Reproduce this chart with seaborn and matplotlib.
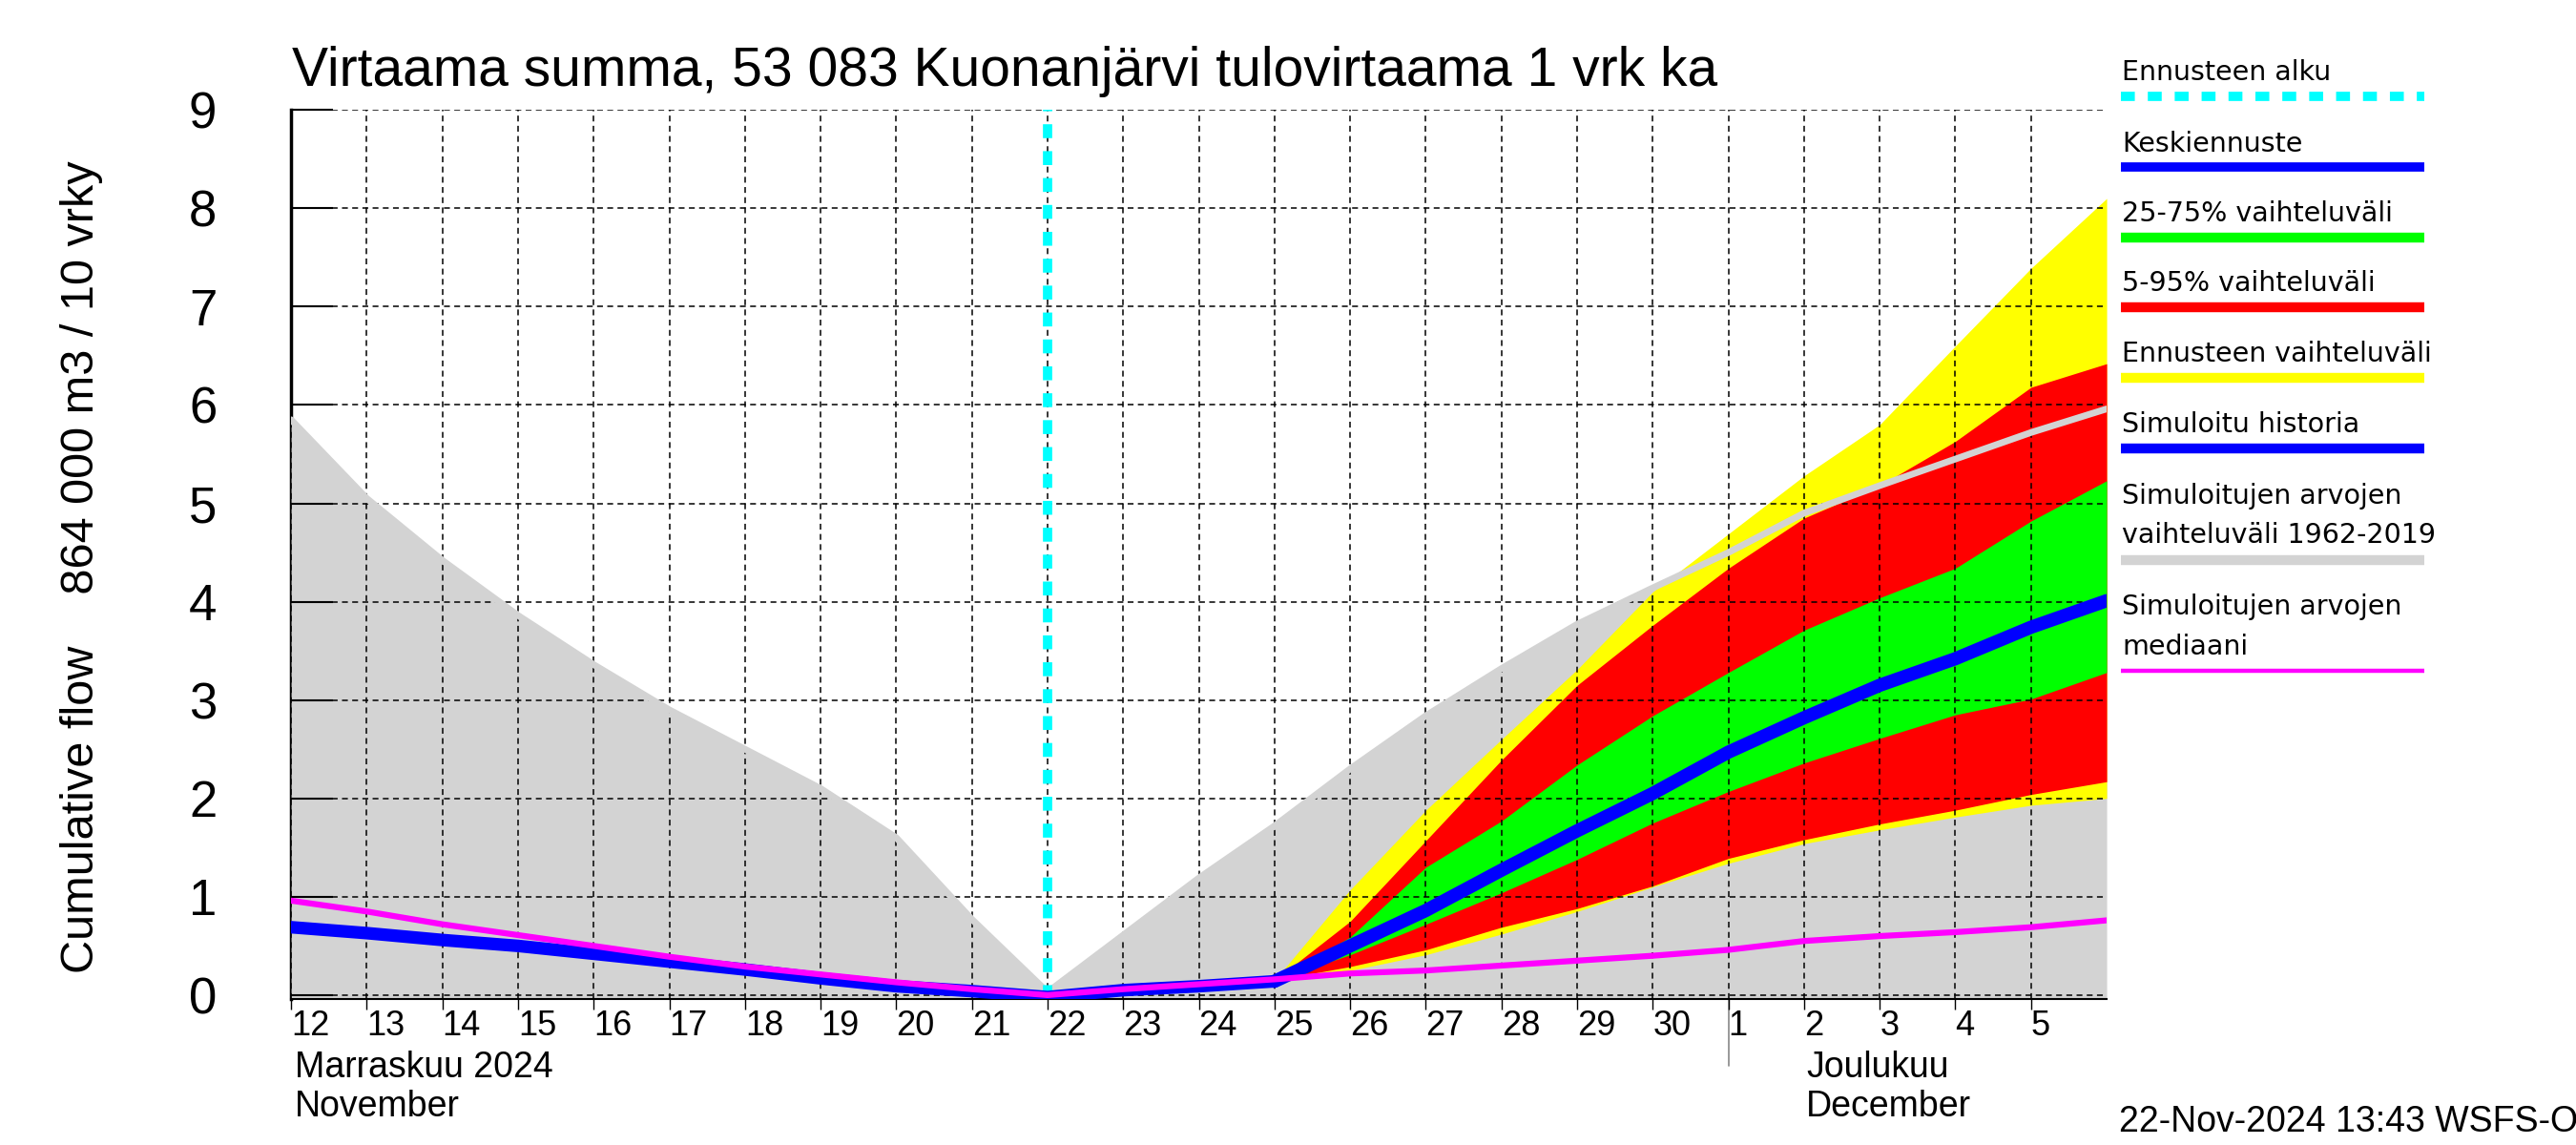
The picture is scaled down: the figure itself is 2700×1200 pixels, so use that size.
import numpy as np
import pandas as pd
import seaborn as sns
import matplotlib.pyplot as plt
from matplotlib.lines import Line2D
from matplotlib.transforms import blended_transform_factory

# x positions are day indices, 0 = 12 Nov 2024 00:00, 24 = 6 Dec 2024 00:00
day_labels = ['12', '13', '14', '15', '16', '17', '18', '19', '20', '21', '22',
              '23', '24', '25', '26', '27', '28', '29', '30', '1', '2', '3', '4', '5']
forecast_start = 10   # 22 Nov
month_break = 19      # 1 Dec

# simulated range 1962-2019 (upper edge) and median, 12 Nov .. 6 Dec
sim_max = [5.85, 5.05, 4.42, 3.86, 3.36, 2.9, 2.5, 2.1, 1.6, 0.77, 0.03, 0.61, 1.19,
           1.72, 2.3, 2.84, 3.32, 3.77, 4.14, 4.5, 4.9, 5.18, 5.45, 5.72, 5.96]
sim_median = [0.96, 0.85, 0.72, 0.61, 0.5, 0.39, 0.29, 0.21, 0.13, 0.06, 0.0, 0.06, 0.11,
              0.16, 0.22, 0.25, 0.3, 0.35, 0.4, 0.46, 0.55, 0.6, 0.64, 0.69, 0.76]

# simulated history, 12 Nov .. 25 Nov
history = [0.69, 0.63, 0.56, 0.5, 0.42, 0.34, 0.26, 0.17, 0.09, 0.04, -0.02, 0.05, 0.09, 0.14]

# forecast, 25 Nov .. 6 Dec
fc_median = [0.14, 0.5, 0.86, 1.27, 1.67, 2.05, 2.47, 2.82, 3.15, 3.42, 3.74, 4.01]
fc_q25 = [0.15, 0.41, 0.72, 1.04, 1.38, 1.75, 2.07, 2.36, 2.61, 2.85, 3.01, 3.28]
fc_q75 = [0.15, 0.59, 1.3, 1.77, 2.34, 2.84, 3.28, 3.71, 4.04, 4.34, 4.82, 5.23]
fc_q05 = [0.15, 0.29, 0.46, 0.69, 0.88, 1.11, 1.39, 1.58, 1.74, 1.88, 2.04, 2.17]
fc_q95 = [0.15, 0.75, 1.57, 2.39, 3.15, 3.76, 4.34, 4.85, 5.18, 5.63, 6.18, 6.42]
fc_min = [0.15, 0.25, 0.41, 0.62, 0.85, 1.1, 1.34, 1.54, 1.68, 1.81, 1.93, 2.0]
fc_max = [0.15, 1.07, 1.88, 2.6, 3.31, 4.1, 4.69, 5.28, 5.8, 6.6, 7.39, 8.1]

x_all = np.arange(len(sim_max))
x_hist = np.arange(len(history))
x_fc = np.arange(len(history) - 1, len(history) - 1 + len(fc_median))

sim_df = pd.DataFrame({'x': x_all, 'max': sim_max, 'median': sim_median})
hist_df = pd.DataFrame({'x': x_hist, 'y': history})
fc_df = pd.DataFrame({'x': x_fc, 'median': fc_median, 'q25': fc_q25, 'q75': fc_q75,
                      'q05': fc_q05, 'q95': fc_q95, 'min': fc_min, 'max': fc_max})

sns.set_theme(style='white')
plt.rcParams['font.family'] = ['Liberation Sans', 'DejaVu Sans']
plt.rcParams['text.color'] = 'black'
plt.rcParams['xtick.color'] = 'black'
plt.rcParams['ytick.color'] = 'black'

YMIN = -0.04
fig = plt.figure(figsize=(27, 12), dpi=100)
ax = fig.add_axes([0.113, 0.1275, 0.7048, 0.7765])

# bands
ax.fill_between(sim_df['x'], YMIN, sim_df['max'], color='#d3d3d3', lw=0, zorder=1)
ax.fill_between(fc_df['x'], fc_df['min'], fc_df['max'], color='#ffff00', lw=0, zorder=1.2)
ax.fill_between(fc_df['x'], fc_df['q05'], fc_df['q95'], color='#ff0000', lw=0, zorder=1.3)
ax.fill_between(fc_df['x'], fc_df['q25'], fc_df['q75'], color='#00ff00', lw=0, zorder=1.4)

sns.lineplot(data=sim_df, x='x', y='max', color='#d3d3d3', lw=5, ax=ax, zorder=3)
ax.axvline(forecast_start, color='#00ffff', lw=7, linestyle=(0, (1.5, 1.4)), zorder=3.2)
sns.lineplot(data=hist_df, x='x', y='y', color='#0000ff', lw=9.5, ax=ax, zorder=4)
sns.lineplot(data=fc_df, x='x', y='median', color='#0000ff', lw=10, ax=ax, zorder=4)
sns.lineplot(data=sim_df, x='x', y='median', color='#ff00ff', lw=4.5, ax=ax, zorder=4.5)

ax.set_xlim(0, 24)
ax.set_ylim(YMIN, 9)
ax.set_xlabel('')
ax.set_ylabel('')
ax.set_axisbelow(False)
ax.grid(True, color='black', linestyle=(0, (4, 3)), linewidth=1.1)

for side in ['top', 'right']:
    ax.spines[side].set_visible(False)
ax.spines['left'].set_linewidth(2.5)
ax.spines['left'].set_zorder(0.5)
ax.spines['bottom'].set_linewidth(1.5)
ax.spines['left'].set_color('black')
ax.spines['bottom'].set_color('black')

ax.set_yticks(range(10))
ax.tick_params(axis='y', direction='in', length=32, width=1.5, labelsize=38, pad=56,
               left=True, colors='black')
ax.set_xticks(range(len(day_labels)))
ax.set_xticklabels(day_labels)
ax.tick_params(axis='x', which='major', direction='out', length=8, width=1.0,
               labelsize=26, pad=0, bottom=True, colors='black')
ax.set_xticks([3, 8, 13, 18, 23], minor=True)
ax.tick_params(axis='x', which='minor', direction='out', length=30, width=1.0, bottom=True)
for lbl in ax.get_xticklabels():
    lbl.set_horizontalalignment('left')

trans = blended_transform_factory(ax.transData, ax.transAxes)
ax.add_line(Line2D([month_break, month_break], [0, -0.075], transform=trans,
                   color='#888888', lw=1.2, clip_on=False))
month_texts = [(0.05, 'Marraskuu 2024', 'November'), (20.03, 'Joulukuu', 'December')]
for mx, fi, en in month_texts:
    ax.text(mx, -0.0885, fi, transform=trans, fontsize=27, va='baseline', ha='left')
    ax.text(mx, -0.1325, en, transform=trans, fontsize=27, va='baseline', ha='left')

fig.text(0.1133, 1 - 90 / 1200, 'Virtaama summa, 53 083 Kuonanjärvi tulovirtaama 1 vrk ka',
         fontsize=41, va='baseline', ha='left')
fig.text(86 / 2700, 1 - 594 / 1200, 'Cumulative flow    864 000 m3 / 10 vrky',
         rotation=90, ha='center', va='center', fontsize=35)
fig.text(2221 / 2700, 1 - 1176 / 1200, '22-Nov-2024 13:43 WSFS-O', fontsize=27,
         ha='left', va='center')

# legend drawn by hand at the right
legend_items = [
    (['Ennusteen alku'], [84.5], 100.5, '#00ffff', 7, (0, (1.5, 1.4))),
    (['Keskiennuste'], [158.6], 175, '#0000ff', 7, '-'),
    (['25-75% vaihteluväli'], [231.8], 248.8, '#00ff00', 7.5, '-'),
    (['5-95% vaihteluväli'], [305.4], 322.4, '#ff0000', 7.5, '-'),
    (['Ennusteen vaihteluväli'], [379.5], 396, '#ffff00', 7.5, '-'),
    (['Simuloitu historia'], [453], 469.7, '#0000ff', 7.5, '-'),
    (['Simuloitujen arvojen', 'vaihteluväli 1962-2019'], [527.8, 569.3], 586.8, '#d3d3d3', 7.5, '-'),
    (['Simuloitujen arvojen', 'mediaani'], [643.8, 686.2], 702.8, '#ff00ff', 3.2, '-'),
]
for texts, ys, ly, col, lw, ls in legend_items:
    for t, yy in zip(texts, ys):
        fig.text(2224 / 2700, 1 - yy / 1200, t, fontsize=20.5, family=['DejaVu Sans'],
                 ha='left', va='baseline', color='black')
    fig.add_artist(Line2D([2223 / 2700, 2541 / 2700], [1 - ly / 1200, 1 - ly / 1200],
                          color=col, lw=lw, linestyle=ls, solid_capstyle='butt',
                          dash_capstyle='butt'))

fig.savefig('out.png', dpi=100, facecolor='white')
